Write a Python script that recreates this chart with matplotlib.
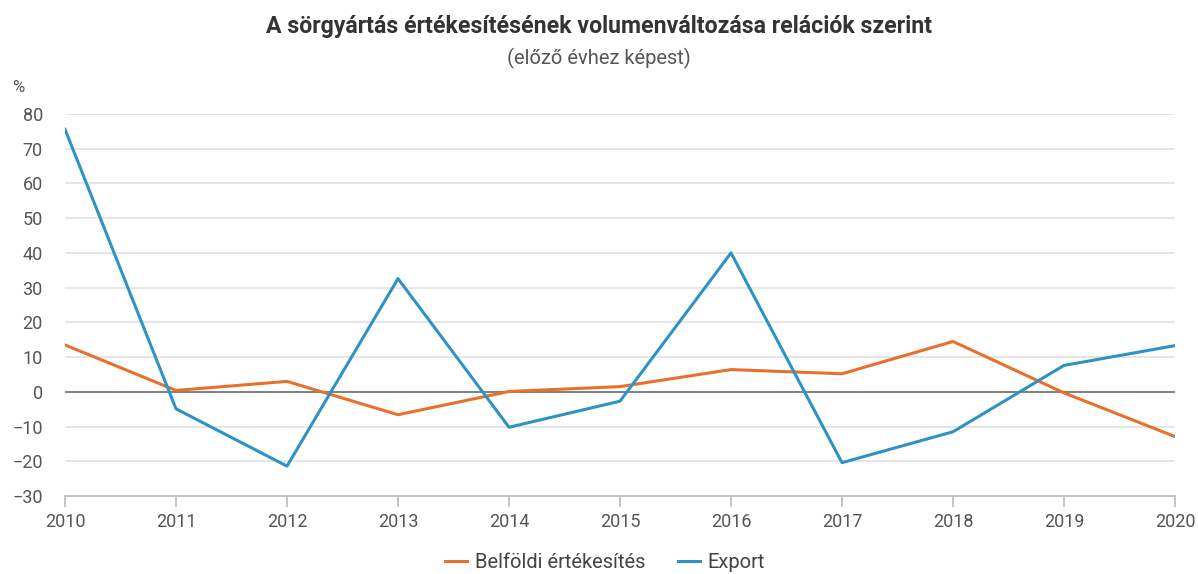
import matplotlib.pyplot as plt

# adatok (előző évhez képest, %)
years = [2010, 2011, 2012, 2013, 2014, 2015, 2016, 2017, 2018, 2019, 2020]
belfoldi = [13.5, 0.4, 3.0, -6.6, 0.1, 1.5, 6.4, 5.2, 14.5, -0.3, -12.9]
export = [75.6, -4.9, -21.4, 32.6, -10.2, -2.7, 40.0, -20.4, -11.5, 7.6, 13.3]
yticks = [-30, -20, -10, 0, 10, 20, 30, 40, 50, 60, 70, 80]

plt.rcParams['font.family'] = ['Roboto', 'DejaVu Sans']

fig = plt.figure(figsize=(11.98, 5.74), dpi=100)
ax = fig.add_axes([65/1198, 1-496/574, 1110/1198, 382/574])

for y in yticks[1:]:
    ax.axhline(y, color='#e2e2e2', lw=1.2, zorder=0)
ax.axhline(0, color='#707070', lw=1.2, zorder=1)

ax.plot(years, belfoldi, color='#E8702A', lw=2.2, label='Belföldi értékesítés', zorder=3)
ax.plot(years, export, color='#2E93C4', lw=2.2, label='Export', zorder=3)

ax.set_xlim(2010, 2020)
ax.set_ylim(-30, 80)
ax.set_xticks(years)
ax.set_yticks(yticks)
for s in ['top', 'right', 'left']:
    ax.spines[s].set_visible(False)
ax.spines['bottom'].set_color('#bbbbbb')
ax.spines['bottom'].set_linewidth(1.2)
ax.tick_params(axis='x', length=8, width=1.2, color='#bbbbbb', labelsize=13, labelcolor='#555555', pad=4)
ax.tick_params(axis='y', length=0, labelsize=13, labelcolor='#555555', pad=16)
for lbl in ax.get_yticklabels():
    lbl.set_horizontalalignment('right')

fig.text(0.5, 1-27/574, 'A sörgyártás értékesítésének volumenváltozása relációk szerint',
         ha='center', va='center', fontsize=16.7, fontweight='bold', color='#333333')
fig.text(0.5, 1-58/574, '(előző évhez képest)', ha='center', va='center', fontsize=14.5, color='#555555')
fig.text(18/1198, 1-87/574, '%', ha='center', va='center', fontsize=12, color='#555555')

fig.legend(loc='center', bbox_to_anchor=(605/1198, 1-563/574), ncol=2, frameon=False,
           fontsize=14.5, labelcolor='#444444', handlelength=1.1, handletextpad=0.4,
           columnspacing=1.6)

fig.savefig('out.png', dpi=100)
